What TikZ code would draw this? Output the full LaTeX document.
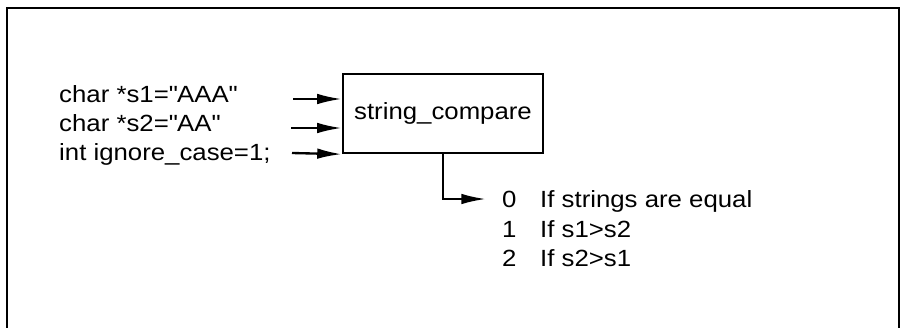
\documentclass[tikz,border=0pt]{standalone}
\usepackage{fontspec}
\setmainfont{Liberation Sans}[FakeStretch=1.1]
\usetikzlibrary{arrows.meta}
\tikzset{
  every node/.style={font=\fontsize{20pt}{24pt}\selectfont, inner sep=0pt},
  flow/.style={line width=2pt, -{Latex[length=21pt,width=9pt]}},
  func/.style={draw, line width=2pt, minimum width=6cm, minimum height=2.37cm},
}
\begin{document}
\begin{tikzpicture}[x=0.03cm,y=-0.03cm]
  \clip (0,0) rectangle (903,327);
  % outer frame, open at the bottom
  \draw[line width=1.5pt] (7,8) rectangle (899,340);

  % arguments
  \node[anchor=base west] (s1) at (59,102) {char *s1=\textquotedbl AAA\textquotedbl};
  \node[anchor=base west] (s2) at (59,131) {char *s2=\textquotedbl AA\textquotedbl};
  \node[anchor=base west] (ic) at (59,160) {int ignore\_case=1;};

  % the function
  \node[func] (cmp) at (443,113.5) {string\_compare};

  \coordinate (a1) at (293,99);
  \coordinate (a2) at (291,128);
  \coordinate (a3) at (292,153);
  \draw[flow] (a1) -- (a1 -| cmp.west);
  \draw[flow] (a2) -- (a2 -| cmp.west);
  \draw[flow] (a3) -- (cmp.south west);

  % return values
  \coordinate (r) at (486,199);
  \draw[flow] (cmp.south) |- (r);
  \node[anchor=base west] (v0) at (502,207) {0};
  \node[anchor=base west] (v1) at (502,237) {1};
  \node[anchor=base west] (v2) at (502,266) {2};
  \node[anchor=base west] (t0) at (540,207) {If strings are equal};
  \node[anchor=base west] (t1) at (540,237) {If s1>s2};
  \node[anchor=base west] (t2) at (540,266) {If s2>s1};
\end{tikzpicture}
\end{document}
